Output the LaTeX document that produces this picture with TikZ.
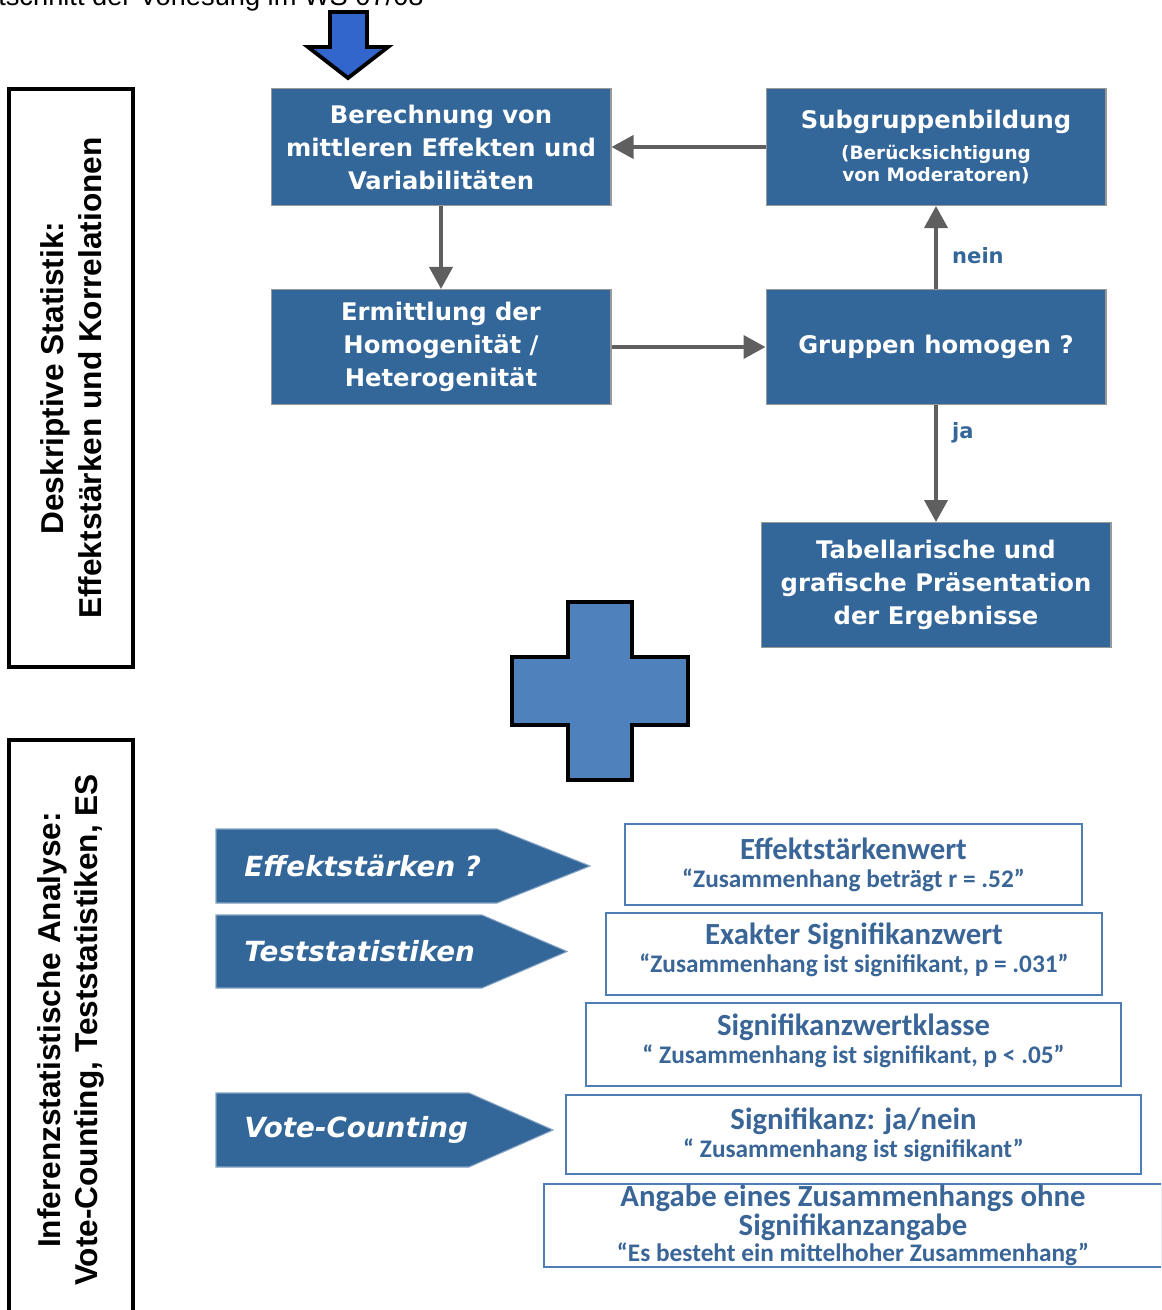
\documentclass[tikz,border=0pt]{standalone}
\usepackage{fontspec}
\setmainfont{DejaVu Sans}
\newfontfamily\arialfont{Liberation Sans}
\newfontfamily\calfont{Carlito}
\usetikzlibrary{positioning,arrows.meta}
\definecolor{boxblue}{HTML}{336699}
\definecolor{ink}{HTML}{5F5F5F}
\definecolor{textblue}{HTML}{3A6597}
\definecolor{rimblue}{HTML}{4F7EB5}
\definecolor{plusblue}{HTML}{4F81BD}
\definecolor{startblue}{HTML}{3366CC}
\newcommand\facthead[1]{{\fontsize{17.5}{18}\selectfont #1}}
\newcommand\subnote{\fontsize{10.5}{12}\selectfont}

\begin{document}
\begin{tikzpicture}[
    x=0.02cm, y=-0.02cm,
    flowbox/.style={draw=gray!80, fill=boxblue, text=white, align=center, line width=0.6pt,
                    font=\bfseries\fontsize{13.8}{18.8}\selectfont,
                    minimum width=6.8cm, minimum height=2.34cm, inner sep=1pt},
    fact/.style={draw=rimblue, fill=white, text=textblue, align=center, line width=1.1pt,
                 font=\calfont\bfseries\fontsize{14.4}{16}\selectfont, inner sep=1pt},
    sidebox/.style={draw=black, line width=2.2pt, rotate=90, align=center, minimum height=2.48cm,
                    font=\arialfont\bfseries\fontsize{18}{21.5}\selectfont},
    flow/.style={-{Triangle[length=4.4mm,width=4.6mm]}, draw=ink, line width=2.2pt},
    lbl/.style={font=\bfseries\fontsize{12}{14}\selectfont, text=boxblue, inner sep=1pt},
    tag/.style={fill=boxblue, draw=boxblue!60, line width=0.6pt},
    tagtxt/.style={font=\bfseries\itshape\fontsize{15.8}{18}\selectfont, text=white, anchor=west, inner sep=0pt},
    solid/.style={draw=black, line width=2.2pt, line join=miter},
  ]
  \useasboundingbox (0,0) rectangle (1161,1310);
  \clip (0,0) rectangle (1161,1310);

  \node[font=\arialfont\fontsize{15.5}{18}\selectfont, anchor=base east, inner sep=0pt] (course) at (424,6)
    {itschnitt der Vorlesung im WS 07/08};
  \draw[solid, fill=startblue] (330,12) -- (367,12) -- (367,47) -- (388,47) -- (348,78)
    -- (308,47) -- (330,47) -- cycle;

  % side labels
  \node[sidebox, minimum width=11.56cm] (desc) at (71,378)
    {Deskriptive Statistik:\\Effektstärken und Korrelationen};
  \node[sidebox, minimum width=11.6cm] (infer) at (71,1030)
    {Inferenzstatistische Analyse:\\Vote-Counting, Teststatistiken, ES};

  % upper flow chart
  \node[flowbox] (calc) at (441,147) {Berechnung von\\mittleren Effekten und\\Variabilitäten};
  \node[flowbox, below=1.66cm of calc, minimum height=2.3cm] (homog)
    {Ermittlung der\\Homogenität /\\Heterogenität};
  \node[flowbox] (sub) at (936,147)
    {Subgruppenbildung\\[-1pt]{\subnote (Berücksichtigung}\\[-6pt]{\subnote von Moderatoren)}};
  \node[flowbox, below=1.66cm of sub, minimum height=2.3cm] (test) {Gruppen homogen ?};
  \node[flowbox, below=2.34cm of test, minimum width=7cm, minimum height=2.5cm] (pres)
    {Tabellarische und\\grafische Präsentation\\der Ergebnisse};

  \draw[flow] (sub) -- (calc);
  \draw[flow] (calc) -- (homog);
  \draw[flow] (homog) -- (test);
  \draw[flow] (test) -- node[lbl, right=2.5mm, pos=0.4] {nein} (sub);
  \draw[flow] (test) -- node[lbl, right=2.5mm, pos=0.24] {ja} (pres);

  % plus
  \draw[solid, fill=plusblue] (568,602) -- (632,602) -- (632,657) -- (688,657) -- (688,725)
    -- (632,725) -- (632,780) -- (568,780) -- (568,725) -- (512,725) -- (512,657)
    -- (568,657) -- cycle;

  % lower part: kinds of reported results
  \fill[tag] (216,829) -- (497,829) -- (590,866) -- (497,903) -- (216,903) -- cycle;
  \node[tagtxt] (esq) at (244,866) {Effektstärken ?};
  \fill[tag] (216,915) -- (482,915) -- (567,951.5) -- (482,988) -- (216,988) -- cycle;
  \node[tagtxt] (tstat) at (244,951.5) {Teststatistiken};
  \fill[tag] (216,1093) -- (469,1093) -- (553,1130) -- (469,1167) -- (216,1167) -- cycle;
  \node[tagtxt] (vote) at (244,1130) {Vote-Counting};

  \node[fact, minimum width=9.14cm, minimum height=1.62cm] (esval) at (853.5,864.5)
    {\facthead{Effektstärkenwert}\\“Zusammenhang beträgt r = .52”};
  \node[fact, minimum width=9.92cm, minimum height=1.64cm] (pexact) at (854,954)
    {\facthead{Exakter Signifikanzwert}\\“Zusammenhang ist signifikant, p = .031”\\[-9pt]\mbox{}};
  \node[fact, minimum width=10.7cm, minimum height=1.66cm] (pclass) at (853.5,1044.5)
    {\facthead{Signifikanzwertklasse}\\“ Zusammenhang ist signifikant, p < .05”\\[-9pt]\mbox{}};
  \node[fact, minimum width=11.5cm, minimum height=1.58cm] (yesno) at (853.5,1134.5)
    {\facthead{Signifikanz: ja/nein}\\“ Zusammenhang ist signifikant”};
  \node[fact, minimum width=12.36cm, minimum height=1.62cm] (plain) at (853,1225.5)
    {\facthead{Angabe eines Zusammenhangs ohne}\\[0.5pt]\facthead{Signifikanzangabe}\\[-1.5pt]“Es besteht ein mittelhoher Zusammenhang”};
\end{tikzpicture}
\end{document}
